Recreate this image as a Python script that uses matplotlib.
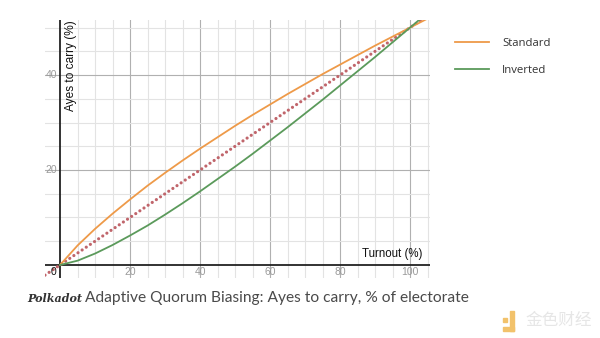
import matplotlib
matplotlib.use("Agg")
import matplotlib.pyplot as plt
from matplotlib.patches import Rectangle

# ---- data ----
turnout = [0, 5, 10, 15, 20, 25, 30, 35, 40, 45, 50, 55, 60, 65, 70, 75, 80, 85, 90, 95, 100, 105]
standard = [0, 4.1, 7.6, 10.8, 13.8, 16.7, 19.4, 22.0, 24.5, 26.9, 29.3, 31.6, 33.8, 36.0, 38.1,
            40.2, 42.2, 44.2, 46.2, 48.1, 50.0, 51.9]
inverted = [0, 0.9, 2.4, 4.2, 6.2, 8.3, 10.6, 13.0, 15.5, 18.1, 20.7, 23.4, 26.2, 29.0, 31.9,
            34.8, 37.8, 40.8, 43.8, 46.9, 50.0, 53.1]
simple_x = [-4.3, 105]
simple_y = [-2.15, 52.5]
x_ticks = [20, 40, 60, 80, 100]
y_ticks = [20, 40]
series_names = ["Standard", "Inverted"]

W, H = 600, 338
fig = plt.figure(figsize=(6.0, 3.38), dpi=100)
fig.patch.set_facecolor("white")

left_px, right_px, top_px, bot_px = 45, 430, 20, 278
ax = fig.add_axes([left_px / W, 1 - bot_px / H, (right_px - left_px) / W, (bot_px - top_px) / H])
ax.set_xlim(-4.3, 105.7)
ax.set_ylim(-2.75, 51.6)
for s in ax.spines.values():
    s.set_visible(False)
ax.set_xticks([])
ax.set_yticks([])

# grid
for gx in range(5, 106, 5):
    major = gx % 20 == 0
    ax.axvline(gx, color="#b0b0b0" if major else "#e3e3e3", lw=0.8, zorder=0)
for gy in range(5, 52, 5):
    major = gy % 20 == 0
    ax.axhline(gy, color="#b0b0b0" if major else "#e3e3e3", lw=0.8, zorder=0)

# axes lines
ax.axhline(0, color="#222222", lw=1.3, zorder=1)
ax.axvline(0, color="#222222", lw=1.3, zorder=1)

# series
ax.plot(turnout, standard, color="#EE9A49", lw=1.3, label=series_names[0], zorder=3)
ax.plot(turnout, inverted, color="#5B9A5B", lw=1.3, label=series_names[1], zorder=3)
ax.plot(simple_x, simple_y, color="#C0656B", lw=2.3, ls=(0, (0.01, 1.55)),
        dash_capstyle="round", zorder=2)

# tick labels
tick_font = dict(family="Liberation Sans", fontsize=7.5, color="#9a9a9a")
for t in x_ticks:
    ax.text(t, -1.5, str(t), ha="center", va="center", **tick_font)
for t in y_ticks:
    ax.text(-0.9, t, str(t), ha="right", va="center", **tick_font)
ax.text(-1.0, -1.5, "0", ha="right", va="center", family="Liberation Sans", fontsize=7.5, color="#111111")

# axis titles
ax.text(1.3, 51.5, "Ayes to carry (%)", rotation=90, ha="left", va="top",
        family="Liberation Sans", fontsize=8.6, color="#111111")
ax.text(103.5, 1.0, "Turnout (%)", ha="right", va="bottom",
        family="Liberation Sans", fontsize=8.3, color="#111111")

# legend
fig.legend(loc="upper left", bbox_to_anchor=(445 / W, 1 - 28 / H), frameon=False,
           handlelength=3.0, handletextpad=1.1, labelspacing=1.35,
           prop=dict(family="Open Sans", size=8.2), labelcolor="#333333")

# caption
fig.canvas.draw()
r = fig.canvas.get_renderer()
t1 = fig.text(27 / W, 1 - 298 / H, "Polkadot", ha="left", va="center",
              family="DejaVu Serif", style="italic", weight="bold", fontsize=8.0, color="#333333")
bb = t1.get_window_extent(renderer=r)
fig.text((bb.x1 + 3) / W, 1 - 298 / H, "Adaptive Quorum Biasing: Ayes to carry, % of electorate",
         ha="left", va="center", family="Lato", fontsize=11.2, weight="normal", color="#4a4a4a")

# watermark
fig.patches.append(Rectangle((503 / W, 1 - 331 / H), 11 / W, 4 / H, transform=fig.transFigure,
                             color="#F2C26B", zorder=0))
fig.patches.append(Rectangle((510 / W, 1 - 331 / H), 4 / W, 20 / H, transform=fig.transFigure,
                             color="#F2C26B", zorder=0))
fig.patches.append(Rectangle((503 / W, 1 - 322 / H), 4 / W, 4 / H, transform=fig.transFigure,
                             color="#F2C26B", zorder=0))
fig.text(525 / W, 1 - 320 / H, "金色财经", family=["Noto Sans CJK SC", "DejaVu Sans"],
         fontsize=12, color="#e6e6e6", ha="left", va="center")

fig.savefig("out.png", dpi=100)
